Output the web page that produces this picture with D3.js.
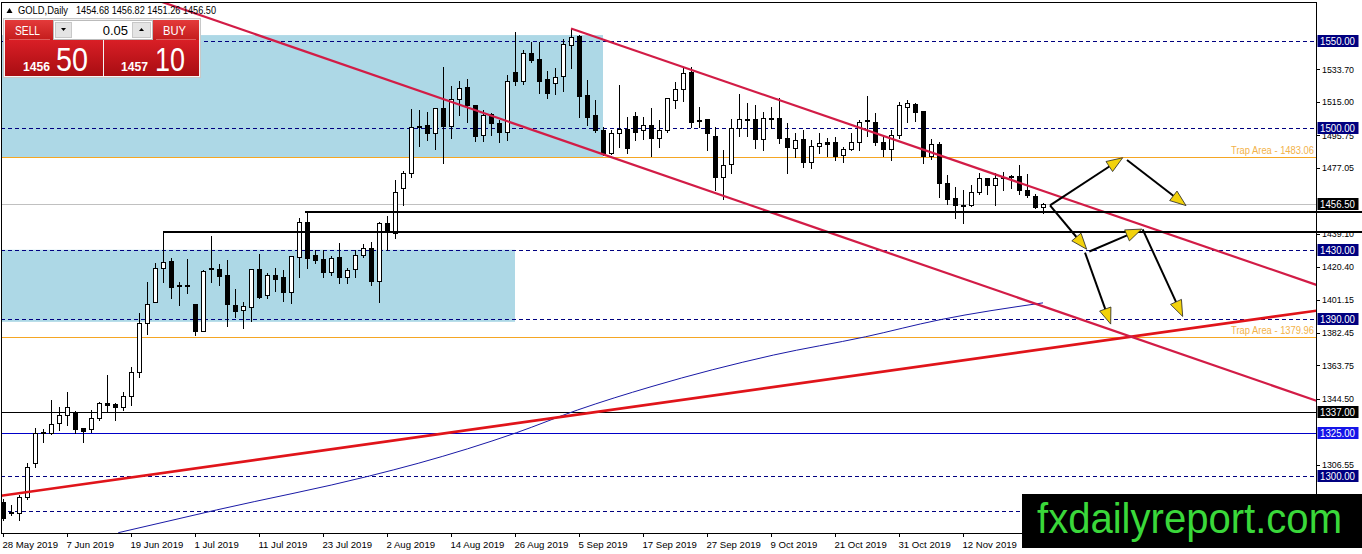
<!DOCTYPE html>
<html><head><meta charset="utf-8">
<script src="https://cdn.jsdelivr.net/npm/d3@7"></script>
<style>
html,body{margin:0;padding:0;background:#fff;overflow:hidden;}
svg{display:block;}
text{font-family:"Liberation Sans",Arial,sans-serif;}
</style></head><body>
<svg id="chart" width="1362" height="554"></svg>
<script>
// ---------------- DATA ----------------
const symbolTitle = "GOLD,Daily";
const headerValues = ["1454.68", "1456.82", "1451.26", "1456.50"];
const dateLabels = ["28 May 2019","7 Jun 2019","19 Jun 2019","1 Jul 2019","11 Jul 2019","23 Jul 2019",
  "2 Aug 2019","14 Aug 2019","26 Aug 2019","5 Sep 2019","17 Sep 2019","27 Sep 2019","9 Oct 2019",
  "21 Oct 2019","31 Oct 2019","12 Nov 2019"];
const labelEvery = 8;
// daily candles [open, high, low, close]
const candles = [
 [1285.3,1286.5,1275.0,1275.7],[1279.3,1283.5,1277.8,1278.6],[1278.9,1289.0,1274.7,1288.1],[1287.7,1307.3,1287.0,1305.0],
 [1307.3,1327.4,1305.4,1324.9],[1324.9,1326.8,1319.3,1325.3],[1324.5,1343.7,1324.1,1329.9],[1330.3,1339.8,1326.4,1335.1],
 [1335.1,1348.1,1329.3,1339.8],[1337.0,1337.5,1324.5,1327.0],[1327.4,1327.8,1319.3,1326.1],[1326.8,1338.0,1325.5,1333.2],
 [1333.2,1342.7,1332.2,1341.8],[1342.0,1358.1,1337.0,1340.8],[1341.4,1342.2,1332.2,1339.5],[1339.5,1348.5,1337.9,1346.2],
 [1346.2,1362.8,1340.8,1360.0],[1360.0,1393.5,1357.1,1388.1],[1387.7,1411.7,1381.6,1398.8],[1400.2,1422.2,1400.0,1419.4],
 [1419.4,1439.5,1411.7,1423.2],[1423.7,1425.1,1402.1,1408.4],[1409.8,1411.7,1398.3,1409.0],[1409.0,1424.5,1405.0,1409.6],
 [1398.8,1398.8,1381.0,1383.5],[1383.5,1418.4,1383.5,1418.0],[1419.2,1437.9,1411.7,1419.6],[1418.8,1421.6,1409.8,1415.1],
 [1415.5,1424.1,1386.2,1398.8],[1398.3,1407.3,1391.2,1394.8],[1395.4,1400.2,1385.3,1397.7],[1397.3,1418.8,1389.3,1418.8],
 [1418.8,1427.6,1402.1,1403.1],[1404.0,1416.5,1402.1,1415.5],[1415.5,1419.7,1406.5,1413.2],[1414.2,1418.4,1400.6,1405.9],
 [1405.9,1426.4,1399.6,1426.4],[1426.1,1448.1,1414.6,1445.8],[1446.2,1451.9,1419.3,1425.1],[1427.0,1429.9,1422.2,1424.1],
 [1424.5,1429.9,1414.2,1417.4],[1417.4,1426.4,1415.5,1425.1],[1425.7,1433.7,1410.7,1414.2],[1414.2,1419.3,1410.7,1418.4],
 [1418.8,1429.9,1414.6,1427.0],[1427.0,1433.3,1425.7,1430.8],[1430.8,1434.7,1409.8,1412.3],[1412.3,1446.2,1400.2,1445.2],
 [1445.2,1449.4,1429.9,1441.0],[1439.5,1470.0,1436.6,1463.4],[1465.3,1475.5,1455.7,1474.3],[1474.3,1510.8,1472.0,1500.8],
 [1500.8,1510.4,1489.7,1501.2],[1501.7,1509.4,1493.1,1497.0],[1497.3,1511.3,1487.8,1511.3],[1511.3,1535.2,1480.1,1501.1],
 [1501.1,1524.1,1494.1,1516.5],[1516.5,1527.2,1507.5,1523.2],[1523.4,1528.0,1503.6,1513.2],[1513.2,1513.2,1492.7,1495.4],
 [1496.0,1510.4,1492.7,1507.5],[1507.9,1508.4,1496.0,1502.7],[1502.7,1504.6,1492.1,1497.9],[1497.9,1530.5,1493.1,1527.2],
 [1532.4,1555.4,1524.7,1527.2],[1527.2,1544.8,1525.3,1542.9],[1542.9,1549.6,1538.1,1539.1],[1539.5,1549.6,1519.9,1527.2],
 [1528.0,1533.0,1517.1,1520.3],[1526.1,1534.3,1519.5,1529.1],[1529.9,1551.0,1521.5,1548.3],[1547.7,1556.7,1534.3,1552.1],
 [1552.9,1553.5,1506.5,1518.4],[1519.0,1527.6,1501.7,1506.5],[1507.5,1516.1,1497.9,1498.8],[1498.8,1500.8,1484.5,1485.4],
 [1485.4,1498.9,1485.0,1496.9],[1496.9,1524.7,1489.3,1499.2],[1499.5,1506.5,1485.8,1488.3],[1506.9,1509.4,1493.1,1497.9],
 [1498.9,1506.5,1493.5,1501.7],[1501.7,1511.3,1483.9,1494.1],[1494.1,1504.6,1488.9,1498.9],[1498.9,1517.1,1497.9,1517.1],
 [1516.1,1526.6,1511.3,1522.2],[1522.2,1535.3,1515.7,1531.4],[1532.4,1535.3,1500.8,1503.6],[1504.0,1512.3,1500.4,1504.4],
 [1505.0,1505.0,1487.3,1497.0],[1495.4,1500.4,1464.4,1472.0],[1472.0,1487.3,1459.0,1478.7],[1479.3,1505.0,1474.3,1499.8],
 [1499.8,1519.5,1495.4,1505.0],[1505.0,1514.2,1495.4,1505.4],[1505.0,1513.2,1488.3,1493.5],[1493.5,1509.4,1487.3,1505.6],
 [1505.6,1512.3,1499.8,1505.8],[1505.6,1517.1,1491.2,1494.1],[1494.1,1503.0,1474.0,1488.9],[1488.3,1496.9,1483.1,1493.1],
 [1493.5,1498.9,1477.4,1480.7],[1480.7,1493.1,1476.8,1489.7],[1489.7,1496.9,1485.8,1491.6],[1492.1,1494.1,1483.9,1490.8],
 [1492.1,1495.0,1481.6,1483.9],[1484.5,1489.3,1480.7,1487.7],[1487.7,1496.9,1487.3,1492.1],[1492.1,1504.6,1487.3,1503.6],
 [1504.0,1518.4,1495.4,1504.4],[1503.6,1508.8,1490.2,1492.1],[1492.1,1495.0,1483.9,1487.7],[1487.7,1498.9,1481.6,1496.0],
 [1496.0,1515.1,1494.1,1513.2],[1512.3,1516.1,1503.6,1514.2],[1513.8,1514.2,1504.2,1509.4],[1510.0,1510.0,1479.7,1483.9],
 [1483.9,1493.5,1482.0,1490.6],[1490.6,1492.1,1460.5,1468.2],[1468.2,1473.0,1456.3,1459.0],[1459.6,1466.3,1448.1,1455.7],
 [1455.7,1464.4,1445.6,1456.0],[1455.7,1467.3,1455.2,1463.4],[1463.4,1474.3,1462.1,1471.1],[1471.1,1471.1,1462.1,1467.3],
 [1467.3,1474.0,1455.7,1471.1],[1471.4,1474.9,1464.4,1471.8],[1472.0,1473.0,1465.3,1472.3],[1472.4,1478.7,1462.1,1464.4],
 [1464.4,1473.6,1460.5,1461.5],[1460.9,1462.1,1453.8,1454.8],[1454.68,1456.82,1451.26,1456.50]
];
// visible price-scale labels (those hidden behind level boxes / watermark are not shown in the reference)
const priceTicks = [1533.70,1515.00,1495.75,1477.05,1439.10,1420.40,1401.15,1382.45,1363.75,1344.50,1306.55];
const dashedLevels = [1550, 1500, 1430, 1390, 1300, 1280];
const boxedLevels = [1550, 1500, 1430, 1390, 1300];
const trapLevels = [1483.06, 1379.96];
const lastPrice = 1456.50;
const blackLevel = 1337.00;
const blueLevel = 1325.00;
const supportRays = [[37.75, 1451.6], [20, 1440.4]];           // [start bar, price]
const zones = [[-2, 75, 1553.4, 1483.06], [-2, 64, 1430, 1388.6]]; // [from bar, to bar, top, bottom]
const channelLower = [[34.625, 1549.0], [164.125, 1343.3]];
const channelUpper = [[71, 1557.2], [164.125, 1409.9]];
const redTrend = [[-0.375, 1288.6], [164.125, 1395.0]];
const ma200 = [[14.4,1267.4],[26.7,1280.5],[45.8,1300.0],[51.9,1307.3],[64.2,1324.9],[71.8,1337.9],
  [81.0,1351.3],[96.3,1369.5],[107.8,1380.0],[117.0,1389.7],[130,1399.5]];
const arrows = [
  [[130.875,1455.5],[139.96,1482.9]],
  [[140.5,1481.6],[147.875,1455.4]],
  [[130.875,1455.5],[135.46,1430.3]],
  [[135.79,1429.0],[142.34,1441.9]],
  [[135.25,1428.4],[138.46,1387.3]],
  [[142.46,1441.7],[147.46,1391.7]]
];
const sellPrice = ["1456", "50"], buyPrice = ["1457", "10"], lotSize = "0.05";
const watermark = "fxdailyreport.com";

// ---------------- LAYOUT ----------------
const svg = d3.select("#chart");
const plot = {left: 1, right: 1316, top: 2, bottom: 533};
const x = d3.scaleLinear().domain([0, 130]).range([3, 1043]);
const y = d3.scaleLinear().domain([1300, 1550]).range([476, 41]);
const R = v => Math.round(v) + 0.5;

svg.append("rect").attr("width",1362).attr("height",554).attr("fill","#fff");
const defs = svg.append("defs");
defs.append("clipPath").attr("id","plotclip").append("rect")
  .attr("x",plot.left).attr("y",plot.top).attr("width",plot.right-plot.left).attr("height",plot.bottom-plot.top);

const g = svg.append("g").attr("clip-path","url(#plotclip)");

// zones
zones.forEach(z => {
  g.append("rect").attr("x", x(z[0])).attr("y", y(z[2]))
   .attr("width", x(z[1]) - x(z[0])).attr("height", y(z[3]) - y(z[2]))
   .attr("fill", "#add8e6");
});

const hline = (p, color, w, dash) => g.append("line")
  .attr("x1", plot.left).attr("x2", plot.right).attr("y1", R(y(p))).attr("y2", R(y(p)))
  .attr("stroke", color).attr("stroke-width", w).attr("stroke-dasharray", dash || null)
  .attr("shape-rendering","crispEdges");

dashedLevels.forEach(p => hline(p, "#000080", 1, "4,3"));
trapLevels.forEach(p => {
  hline(p, "#f5a623", 1);
  g.append("text").attr("x", 1314).attr("y", y(p) - 3).attr("text-anchor","end")
   .attr("font-size", 10).attr("fill","#f2b24a").attr("textLength", 83).attr("lengthAdjust","spacingAndGlyphs")
   .text("Trap Area - " + p.toFixed(2));
});
hline(lastPrice, "#c0c0c0", 1);
hline(blackLevel, "#000", 1);
hline(blueLevel, "#0000c8", 1);

// moving average
g.append("path").datum(ma200)
  .attr("d", d3.line().x(d => x(d[0])).y(d => y(d[1])).curve(d3.curveMonotoneX))
  .attr("fill","none").attr("stroke","#1a1aa6").attr("stroke-width",1);

// candles
const cg = g.append("g");
candles.forEach((d, i) => {
  const [o, h, l, c] = d;
  const cx = Math.round(x(i));
  cg.append("line").attr("x1", cx + 0.5).attr("x2", cx + 0.5)
    .attr("y1", Math.round(y(h))).attr("y2", Math.round(y(l)) + 1)
    .attr("stroke","#000").attr("stroke-width",1).attr("shape-rendering","crispEdges");
  const top = R(y(Math.max(o, c))), bot = R(y(Math.min(o, c)));
  const bull = c >= o;
  if (bot - top < 1) {
    cg.append("rect").attr("x", cx - 2).attr("y", top - 0.5).attr("width", 5).attr("height", 2)
      .attr("fill","#000").attr("shape-rendering","crispEdges");
  } else {
    cg.append("rect").attr("x", cx - 1.5).attr("y", top).attr("width", 4).attr("height", bot - top)
      .attr("fill", bull ? "#fff" : "#000").attr("stroke","#000").attr("stroke-width",1)
      .attr("shape-rendering","crispEdges");
  }
});

// trend lines (extended across the plot, clipped)
function extLine(pts, x0, x1, color, w) {
  const [a, b] = pts;
  const k = (b[1] - a[1]) / (b[0] - a[0]);
  const f = t => a[1] + k * (t - a[0]);
  g.append("line").attr("x1", x(x0)).attr("y1", y(f(x0))).attr("x2", x(x1)).attr("y2", y(f(x1)))
   .attr("stroke", color).attr("stroke-width", w);
}
extLine(redTrend, -5, 170, "#e0141a", 2.6);
extLine(channelLower, -5, 170, "#d21c46", 2.2);
extLine(channelUpper, channelUpper[0][0], 170, "#d21c46", 2.2);

// axes frame
svg.append("rect").attr("x", 1.5).attr("y", 2.5).attr("width", plot.right - 1.5).attr("height", plot.bottom - 2.5)
  .attr("fill","none").attr("stroke","#000").attr("stroke-width",1).attr("shape-rendering","crispEdges");

// price axis ticks and labels
const ax = svg.append("g");
priceTicks.forEach(p => {
  ax.append("line").attr("x1", plot.right).attr("x2", plot.right + 4).attr("y1", R(y(p))).attr("y2", R(y(p)))
    .attr("stroke","#000").attr("shape-rendering","crispEdges");
  ax.append("text").attr("x", 1322).attr("y", y(p) + 3.5).attr("font-size", 9.5)
    .attr("textLength", 32).attr("lengthAdjust","spacingAndGlyphs").attr("fill","#000").text(p.toFixed(2));
});
function priceBox(p, bg) {
  ax.append("rect").attr("x", 1317.5).attr("y", Math.round(y(p)) - 6).attr("width", 41).attr("height", 12).attr("fill", bg);
  ax.append("text").attr("x", 1320).attr("y", y(p) + 4).attr("font-size", 10)
    .attr("textLength", 35).attr("lengthAdjust","spacingAndGlyphs").attr("fill","#fff").text(p.toFixed(2));
}
boxedLevels.forEach(p => priceBox(p, "#000080"));
priceBox(lastPrice, "#000");
priceBox(blackLevel, "#000");
priceBox(blueLevel, "#1414e8");

// time axis
dateLabels.forEach((lab, j) => {
  const i = j * labelEvery;
  const xx = Math.round(x(i)) + 0.5;
  ax.append("line").attr("x1", xx).attr("x2", xx).attr("y1", plot.bottom).attr("y2", plot.bottom + 4)
    .attr("stroke","#000").attr("shape-rendering","crispEdges");
  ax.append("text").attr("x", xx - 1).attr("y", 548).attr("font-size", 9.6).attr("fill","#000").text(lab);
});

// support rays extending through the price scale
supportRays.forEach(r => {
  svg.append("line").attr("x1", x(r[0])).attr("x2", 1362).attr("y1", Math.round(y(r[1]))).attr("y2", Math.round(y(r[1])))
    .attr("stroke","#000").attr("stroke-width",2).attr("shape-rendering","crispEdges");
});

// arrows
const ag = svg.append("g");
arrows.forEach(a => {
  const x1 = x(a[0][0]), y1 = y(a[0][1]), x2 = x(a[1][0]), y2 = y(a[1][1]);
  const len = Math.hypot(x2 - x1, y2 - y1), ux = (x2 - x1) / len, uy = (y2 - y1) / len;
  const hl = 16, hw = 6;
  const bx = x2 - ux * hl, by = y2 - uy * hl;
  ag.append("line").attr("x1", x1).attr("y1", y1).attr("x2", bx).attr("y2", by)
    .attr("stroke","#000").attr("stroke-width",2);
  ag.append("path").attr("d", `M${x2},${y2} L${bx - uy * hw},${by + ux * hw} L${bx + uy * hw},${by - ux * hw} Z`)
    .attr("fill","#f2d20c").attr("stroke","#222").attr("stroke-width",0.8);
});

// header title
const hd = svg.append("g");
hd.append("path").attr("d","M6.5,13 L9.5,8 L12.5,13 Z").attr("fill","#000");
hd.append("text").attr("x", 18).attr("y", 14).attr("font-size", 11).attr("textLength", 50)
  .attr("lengthAdjust","spacingAndGlyphs").text(symbolTitle);
hd.append("text").attr("x", 76).attr("y", 14).attr("font-size", 11).attr("textLength", 140)
  .attr("lengthAdjust","spacingAndGlyphs").text(headerValues.join(" "));

// one-click trading widget
const gradTop = defs.append("linearGradient").attr("id","rt").attr("x1",0).attr("y1",0).attr("x2",0).attr("y2",1);
gradTop.append("stop").attr("offset","0%").attr("stop-color","#e43a3a");
gradTop.append("stop").attr("offset","100%").attr("stop-color","#c41c1c");
const gradBot = defs.append("linearGradient").attr("id","rb").attr("x1",0).attr("y1",0).attr("x2",0).attr("y2",1);
gradBot.append("stop").attr("offset","0%").attr("stop-color","#d91f26");
gradBot.append("stop").attr("offset","100%").attr("stop-color","#a80d12");
const wd = svg.append("g");
wd.append("rect").attr("x",3.5).attr("y",18.5).attr("width",197).attr("height",59).attr("fill","#f4f4f4").attr("stroke","#c8c8c8");
wd.append("rect").attr("x",5).attr("y",20).attr("width",48).attr("height",20).attr("fill","url(#rt)");
wd.append("rect").attr("x",153).attr("y",20).attr("width",46).attr("height",20).attr("fill","url(#rt)");
wd.append("rect").attr("x",5).attr("y",40).attr("width",98).attr("height",36).attr("fill","url(#rb)");
wd.append("rect").attr("x",104).attr("y",40).attr("width",95).attr("height",36).attr("fill","url(#rb)");
wd.append("line").attr("x1",9).attr("x2",50).attr("y1",39.5).attr("y2",39.5).attr("stroke","#e88").attr("stroke-width",0.6);
wd.append("line").attr("x1",156).attr("x2",196).attr("y1",39.5).attr("y2",39.5).attr("stroke","#e88").attr("stroke-width",0.6);
wd.append("rect").attr("x",53.5).attr("y",20.5).attr("width",99).attr("height",19).attr("fill","#fff").attr("stroke","#bbb");
wd.append("rect").attr("x",55.5).attr("y",22.5).attr("width",16).attr("height",15).attr("fill","#e4e4e4").attr("stroke","#c8c8c8");
wd.append("rect").attr("x",132.5).attr("y",22.5).attr("width",18).attr("height",15).attr("fill","#e4e4e4").attr("stroke","#c8c8c8");
wd.append("path").attr("d","M61,28 L66,28 L63.5,31 Z").attr("fill","#000");
wd.append("path").attr("d","M139,31 L144,31 L141.5,28 Z").attr("fill","#000");
wd.append("text").attr("x",128).attr("y",35).attr("text-anchor","end").attr("font-size",13).attr("fill","#000").text(lotSize);
wd.append("text").attr("x",15).attr("y",35).attr("font-size",13).attr("fill","#fff").attr("textLength",25).attr("lengthAdjust","spacingAndGlyphs").text("SELL");
wd.append("text").attr("x",163).attr("y",35).attr("font-size",13).attr("fill","#fff").attr("textLength",23).attr("lengthAdjust","spacingAndGlyphs").text("BUY");
wd.append("text").attr("x",23).attr("y",71).attr("font-size",13).attr("font-weight","bold").attr("fill","#fff").attr("textLength",27).attr("lengthAdjust","spacingAndGlyphs").text(sellPrice[0]);
wd.append("text").attr("x",56).attr("y",71).attr("font-size",33).attr("fill","#fff").attr("textLength",32).attr("lengthAdjust","spacingAndGlyphs").text(sellPrice[1]);
wd.append("text").attr("x",121).attr("y",71).attr("font-size",13).attr("font-weight","bold").attr("fill","#fff").attr("textLength",27).attr("lengthAdjust","spacingAndGlyphs").text(buyPrice[0]);
wd.append("text").attr("x",155).attr("y",71).attr("font-size",33).attr("fill","#fff").attr("textLength",30).attr("lengthAdjust","spacingAndGlyphs").text(buyPrice[1]);

// watermark
svg.append("rect").attr("x",1022).attr("y",494).attr("width",340).attr("height",54).attr("fill","#000");
svg.append("text").attr("x",1037).attr("y",533).attr("font-size",42).attr("fill","#3ad83a")
  .attr("textLength",305).attr("lengthAdjust","spacingAndGlyphs").text(watermark);
</script>
</body></html>
